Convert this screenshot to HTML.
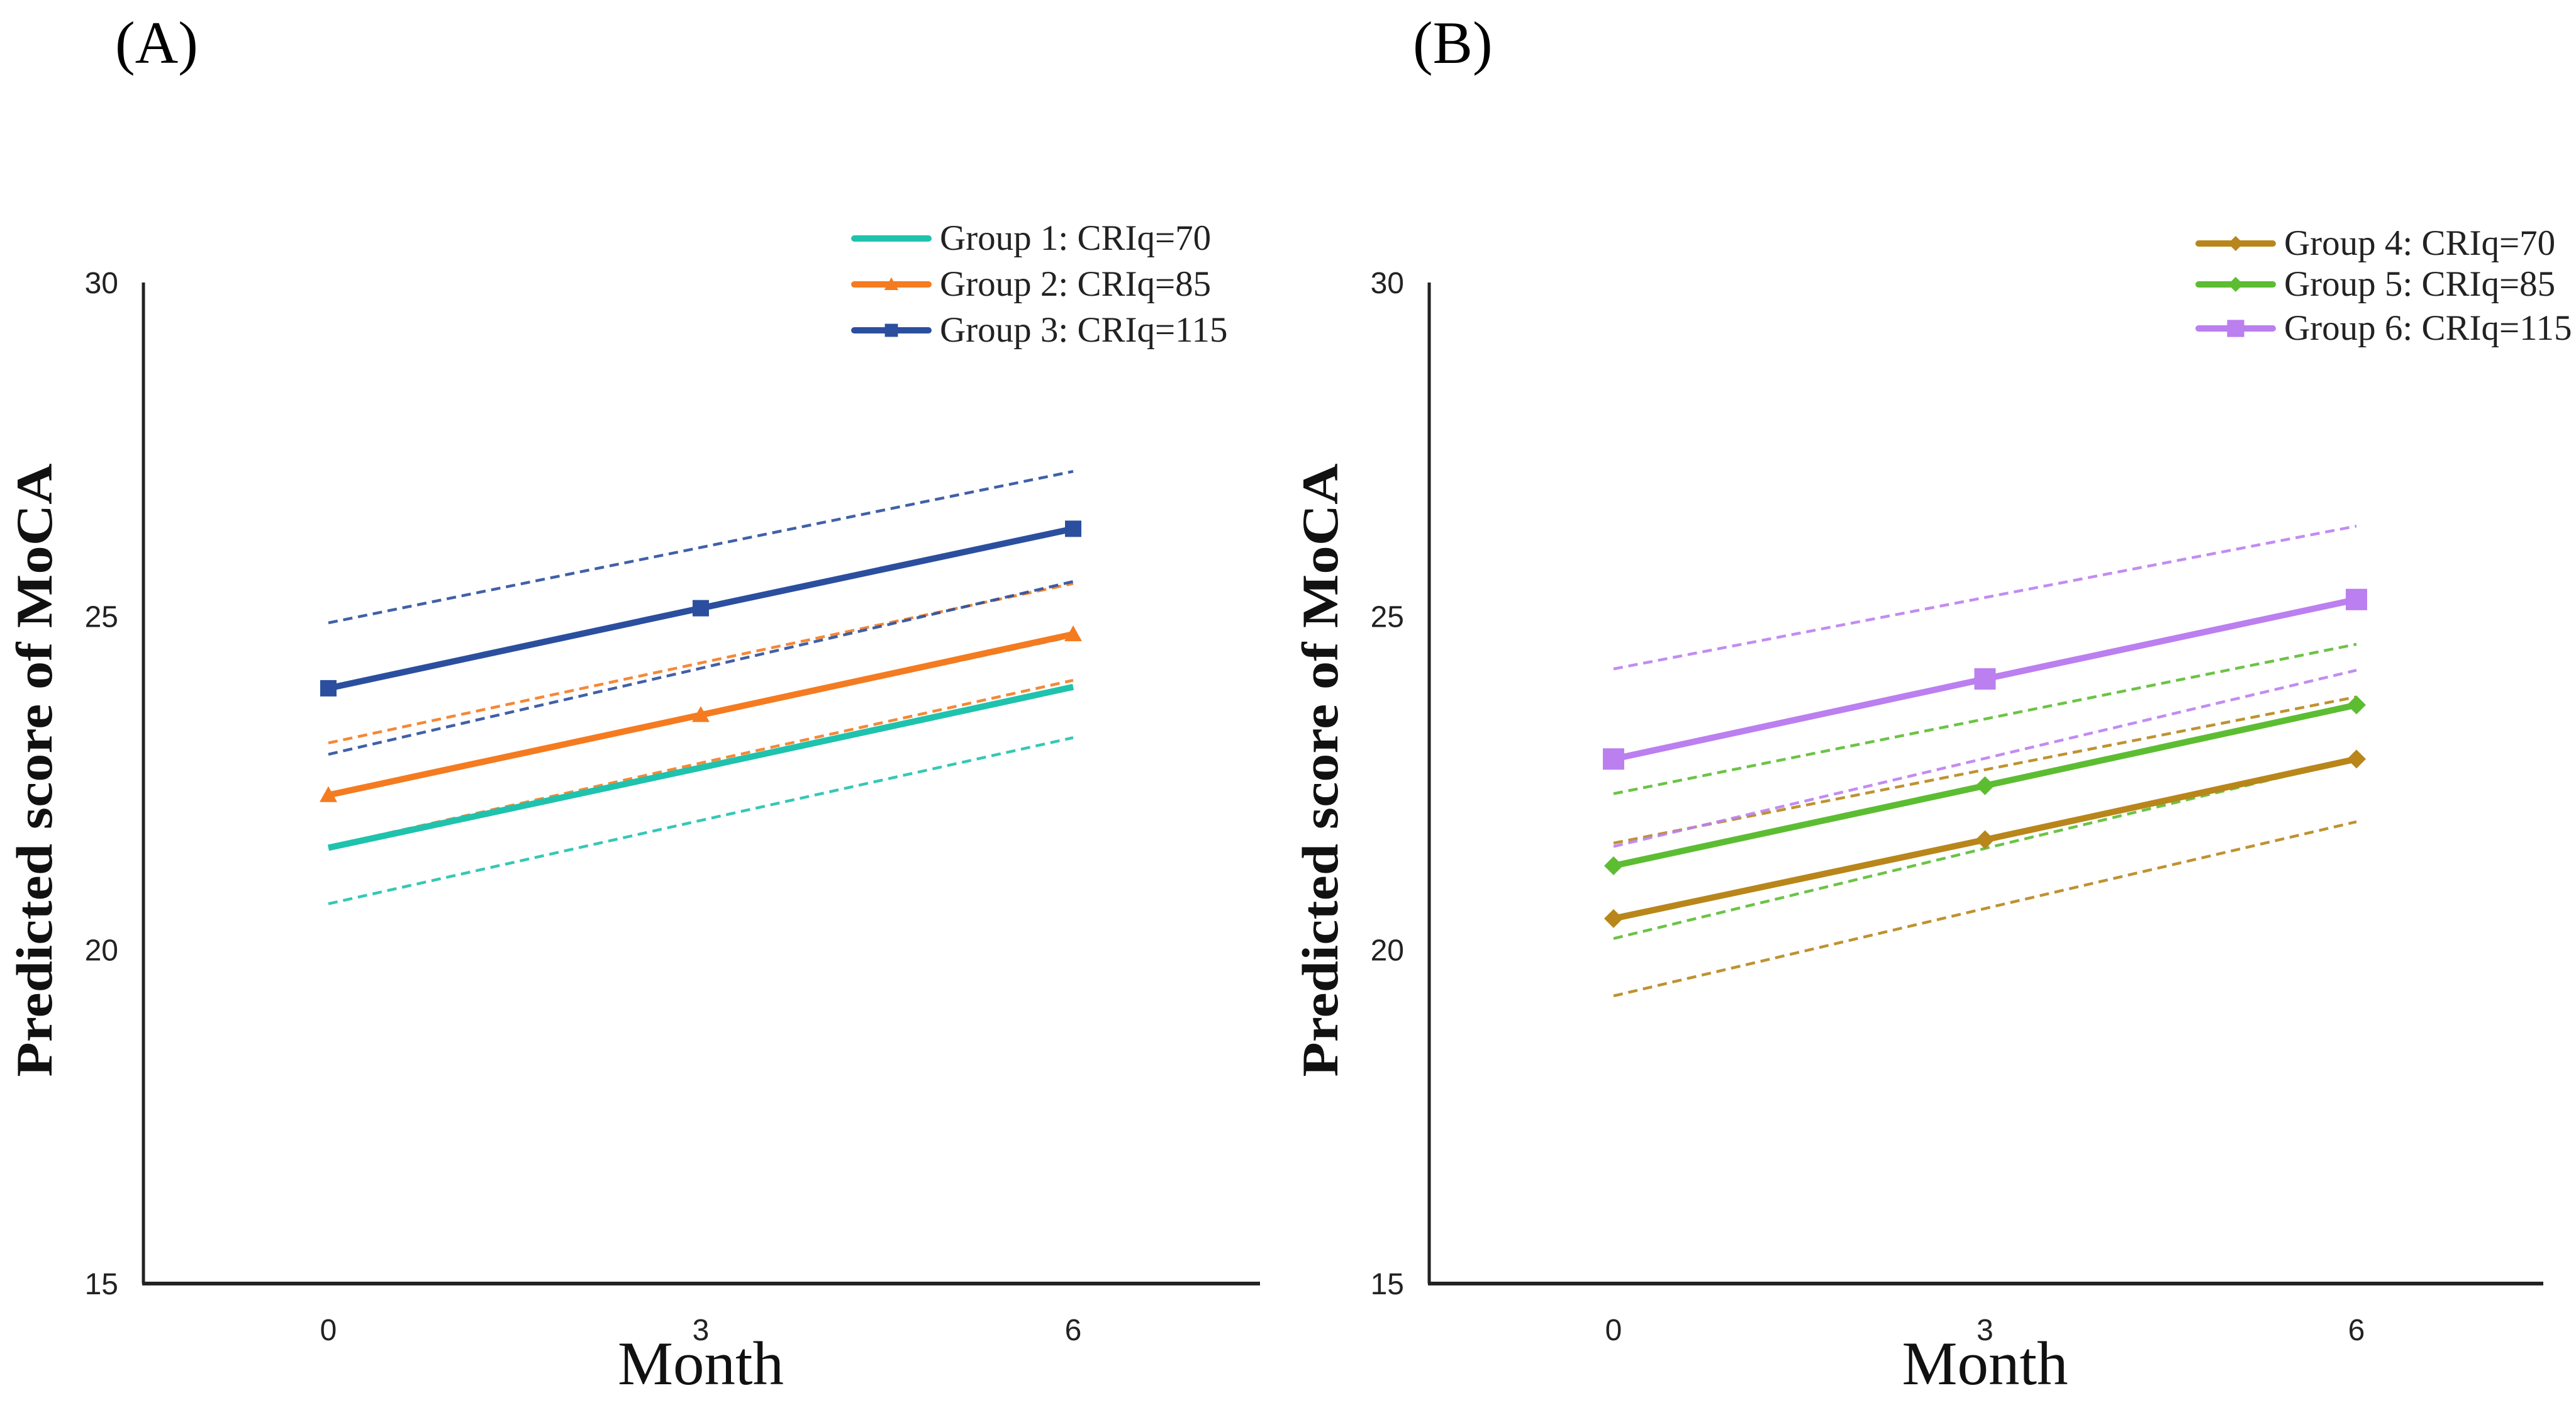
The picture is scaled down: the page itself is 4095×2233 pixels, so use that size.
<!DOCTYPE html>
<html><head><meta charset="utf-8">
<style>
html,body{margin:0;padding:0;background:#fff;}
svg{display:block;}
</style></head>
<body>
<svg id="chart" width="4095" height="2233" viewBox="0 0 4095 2233" xmlns="http://www.w3.org/2000/svg">
<rect width="4095" height="2233" fill="#fff"/>
</svg>
<script>
const months = [0, 3, 6];
const yTicks = [15, 20, 25, 30];
// Panel A
const g1 = [21.53, 22.73, 23.94];
const g1Lo = [20.69, 21.94, 23.18];
const g1Hi = [22.3, 23.5, 24.7];
const g2 = [22.32, 23.52, 24.73];
const g2Lo = [21.55, 22.8, 24.04];
const g2Hi = [23.1, 24.3, 25.49];
const g3 = [23.92, 25.12, 26.31];
const g3Lo = [22.93, 24.22, 25.52];
const g3Hi = [24.9, 26.03, 27.17];
// Panel B
const g4 = [20.47, 21.65, 22.86];
const g4Lo = [19.31, 20.62, 21.92];
const g4Hi = [21.6, 22.7, 23.79];
const g5 = [21.26, 22.46, 23.67];
const g5Lo = [20.17, 21.52, 22.86];
const g5Hi = [22.34, 23.46, 24.58];
const g6 = [22.86, 24.06, 25.25];
const g6Lo = [21.55, 22.87, 24.19];
const g6Hi = [24.21, 25.28, 26.35];

const NS = 'http://www.w3.org/2000/svg';
const svg = document.getElementById('chart');
function el(tag, attrs, parent) {
  const e = document.createElementNS(NS, tag);
  for (const k in attrs) e.setAttribute(k, attrs[k]);
  (parent || svg).appendChild(e);
  return e;
}

function panel(cfg) {
  const g = el('g', {});
  
  
  const yScale = v => 2040 - (v - 15) * (2040 - 449) / 15;
  const xScale = m => cfg.x0 + (cfg.x6 - cfg.x0) * m / 6;

  const lbl = el('text', {x: cfg.lx, y: 100, 'font-family': 'Liberation Serif, serif', 'font-size': 95}, g);
  lbl.textContent = cfg.label;
  
  

  const ya = el('line', {x1: cfg.ax, y1: 449, x2: cfg.ax, y2: 2040, stroke: '#222', 'stroke-width': 5}, g);
  
  
  const xa = el('line', {x1: cfg.ax - 2, y1: 2040, x2: cfg.axEnd, y2: 2040, stroke: '#222', 'stroke-width': 6}, g);
  
  

  yTicks.forEach(t => {
    const tx = el('text', {x: cfg.ax - 40, y: yScale(t) + 17, 'text-anchor': 'end', 'font-family': 'Liberation Sans, sans-serif', 'font-size': 48, fill: '#222'}, g);
    tx.textContent = t;
    
    
  });
  months.forEach(m => {
    const tx = el('text', {x: xScale(m), y: 2130, 'text-anchor': 'middle', 'font-family': 'Liberation Sans, sans-serif', 'font-size': 48, fill: '#222'}, g);
    tx.textContent = m;
    
    
  });
  const mt = el('text', {x: xScale(3), y: 2200, 'text-anchor': 'middle', 'font-family': 'Liberation Serif, serif', 'font-size': 99, fill: '#111'}, g);
  mt.textContent = 'Month';
  
  
  const yt = el('text', {x: 0, y: 0, 'text-anchor': 'middle', 'font-family': 'Liberation Serif, serif', 'font-weight': 'bold', 'font-size': 82, fill: '#111', textLength: 975, lengthAdjust: 'spacingAndGlyphs', transform: `translate(${cfg.ax - 146},1224) rotate(-90)`}, g);
  yt.textContent = 'Predicted score of MoCA';
  
  

  const pts = arr => arr.map((v, i) => xScale(months[i]) + ',' + yScale(v)).join(' ');

  cfg.series.forEach(s => {
    [s.lo, s.hi].forEach((arr, k) => {
      const d = el('polyline', {points: pts(arr), fill: 'none', stroke: s.color, 'stroke-width': 4.5, 'stroke-dasharray': '15 9', opacity: 0.9}, g);
      
      
    });
  });
  cfg.series.forEach(s => {
    const l = el('polyline', {points: pts(s.vals), fill: 'none', stroke: s.color, 'stroke-width': 10, 'stroke-linejoin': 'round'}, g);
    
    
    s.vals.forEach((v, i) => {
      const mk = marker(s, xScale(months[i]), yScale(v), g);
      if (mk) {
        
        
      }
    });
  });

  cfg.series.forEach((s, i) => {
    const y = cfg.legY[i];
    const ll = el('line', {x1: cfg.legX, y1: y, x2: cfg.legX + 118, y2: y, stroke: s.color, 'stroke-width': 10, 'stroke-linecap': 'round'}, g);
    
    
    const mk = marker(s, cfg.legX + 59, y, g, 0.8);
    if (mk) {
      
      
    }
    const tx = el('text', {x: cfg.legX + 136, y: y + 18, 'font-family': 'Liberation Serif, serif', 'font-size': 57, fill: '#222'}, g);
    tx.textContent = s.name;
    
    
  });
}

function marker(s, x, y, g, sc) {
  sc = sc || 1;
  if (s.m === 'tri') { const r = 14 * sc; return el('polygon', {points: `${x},${y - r} ${x + r},${y + r * 0.8} ${x - r},${y + r * 0.8}`, fill: s.color}, g); }
  if (s.m === 'sq') { const r = 13 * sc; return el('rect', {x: x - r, y: y - r, width: 2 * r, height: 2 * r, fill: s.color}, g); }
  if (s.m === 'bigsq') { const r = 17 * sc; return el('rect', {x: x - r, y: y - r, width: 2 * r, height: 2 * r, fill: s.color}, g); }
  if (s.m === 'dia') { const r = 15 * sc; return el('polygon', {points: `${x},${y - r} ${x + r},${y} ${x},${y + r} ${x - r},${y}`, fill: s.color}, g); }
  return null;
}

panel({id: 'panel-a', label: '(A)', lx: 183, ax: 228, axEnd: 2003, x0: 522, x6: 1706,
  legX: 1358, legY: [379, 452, 525],
  series: [
    {key: 'group-1', name: 'Group 1: CRIq=70', color: '#1fc2ad', vals: g1, lo: g1Lo, hi: g1Hi, m: 'none'},
    {key: 'group-2', name: 'Group 2: CRIq=85', color: '#f47b20', vals: g2, lo: g2Lo, hi: g2Hi, m: 'tri'},
    {key: 'group-3', name: 'Group 3: CRIq=115', color: '#2b4f9e', vals: g3, lo: g3Lo, hi: g3Hi, m: 'sq'}
  ]});
panel({id: 'panel-b', label: '(B)', lx: 2246, ax: 2272, axEnd: 4043, x0: 2565, x6: 3746,
  legX: 3495, legY: [387, 452, 522],
  series: [
    {key: 'group-4', name: 'Group 4: CRIq=70', color: '#b8861b', vals: g4, lo: g4Lo, hi: g4Hi, m: 'dia'},
    {key: 'group-5', name: 'Group 5: CRIq=85', color: '#5cbd32', vals: g5, lo: g5Lo, hi: g5Hi, m: 'dia'},
    {key: 'group-6', name: 'Group 6: CRIq=115', color: '#bb7ff0', vals: g6, lo: g6Lo, hi: g6Hi, m: 'bigsq'}
  ]});
</script>
</body></html>
